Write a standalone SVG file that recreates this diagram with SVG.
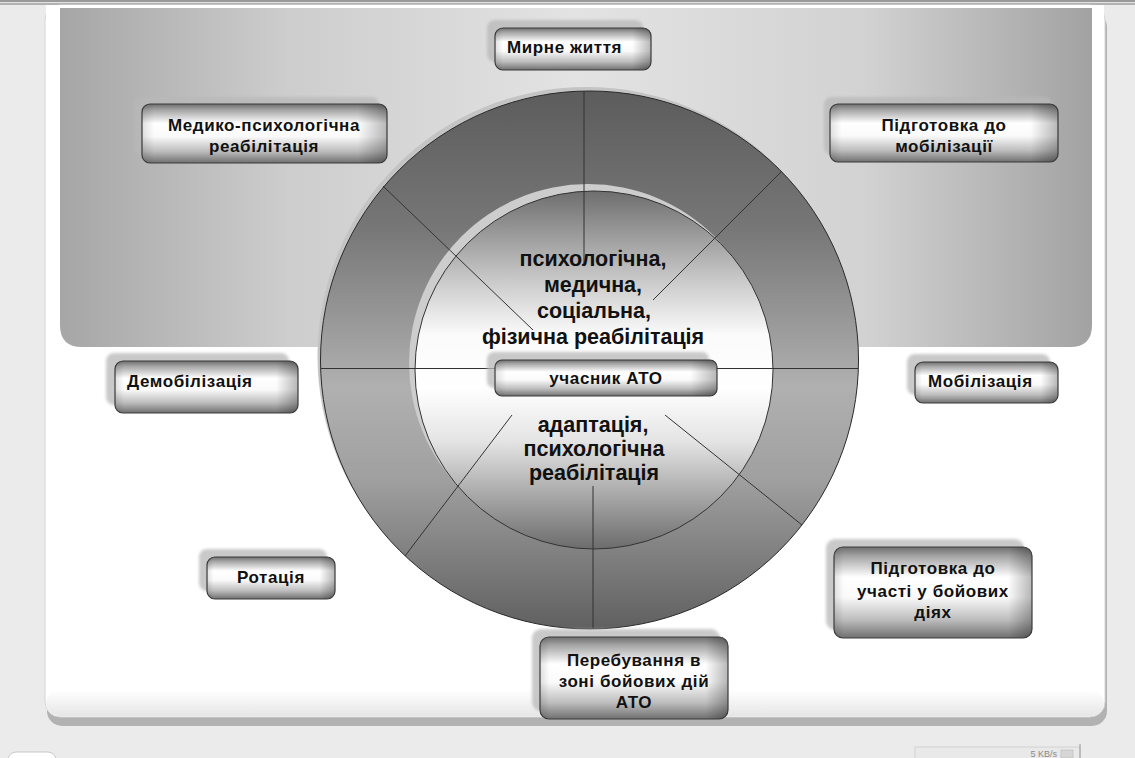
<svg xmlns="http://www.w3.org/2000/svg" width="1135" height="758" viewBox="0 0 1135 758">
<defs>
  <linearGradient id="panel" x1="0" y1="0" x2="1" y2="0">
    <stop offset="0" stop-color="#a6a6a6"/>
    <stop offset="0.22" stop-color="#cdcdcd"/>
    <stop offset="0.5" stop-color="#e3e3e3"/>
    <stop offset="0.78" stop-color="#d2d2d2"/>
    <stop offset="1" stop-color="#a2a2a2"/>
  </linearGradient>
  <linearGradient id="ring" x1="0" y1="0" x2="0" y2="1">
    <stop offset="0" stop-color="#5c5c5c"/>
    <stop offset="0.25" stop-color="#767676"/>
    <stop offset="0.55" stop-color="#b0b0b0"/>
    <stop offset="0.72" stop-color="#a0a0a0"/>
    <stop offset="1" stop-color="#606060"/>
  </linearGradient>
  <linearGradient id="core" x1="0" y1="0" x2="0" y2="1">
    <stop offset="0" stop-color="#6e6e6e"/>
    <stop offset="0.24" stop-color="#c6c6c6"/>
    <stop offset="0.4" stop-color="#fafafa"/>
    <stop offset="0.55" stop-color="#ffffff"/>
    <stop offset="0.7" stop-color="#e4e4e4"/>
    <stop offset="1" stop-color="#6c6c6c"/>
  </linearGradient>
  <linearGradient id="boxv" x1="0" y1="0" x2="0" y2="1">
    <stop offset="0" stop-color="#6e6e6e"/>
    <stop offset="0.1" stop-color="#a4a4a4"/>
    <stop offset="0.33" stop-color="#ffffff"/>
    <stop offset="0.55" stop-color="#fafafa"/>
    <stop offset="0.8" stop-color="#bdbdbd"/>
    <stop offset="1" stop-color="#707070"/>
  </linearGradient>
  <linearGradient id="boxh" x1="0" y1="0" x2="1" y2="0">
    <stop offset="0" stop-color="#000" stop-opacity="0.12"/>
    <stop offset="0.05" stop-color="#000" stop-opacity="0"/>
    <stop offset="0.88" stop-color="#000" stop-opacity="0"/>
    <stop offset="1" stop-color="#000" stop-opacity="0.28"/>
  </linearGradient>
  <linearGradient id="cbottom" x1="0" y1="0" x2="0" y2="1">
    <stop offset="0" stop-color="#ffffff"/>
    <stop offset="1" stop-color="#e6e6e6"/>
  </linearGradient>
  <filter id="soft" x="-10%" y="-30%" width="120%" height="160%">
    <feGaussianBlur stdDeviation="1.8"/>
  </filter>
</defs>
<style>
  .lbl{font-family:"Liberation Sans",Arial,sans-serif;font-size:17px;font-weight:bold;letter-spacing:0.6px;fill:#111}
  .mid{text-anchor:middle}
  .ctr{font-family:"Liberation Sans",Arial,sans-serif;font-size:21.5px;font-weight:bold;fill:#111;text-anchor:middle}
  .sh{fill:#b8b8b8;opacity:0.75;filter:url(#soft)}
  .bx{fill:url(#boxv)}
  .bo{fill:url(#boxh);stroke:#3a3a3a;stroke-width:1.2}
  .div{stroke:#333;stroke-width:1;fill:none}
</style>

<!-- page background -->
<rect x="0" y="0" width="1135" height="758" fill="#ebebeb"/>
<rect x="0" y="0" width="1135" height="2" fill="#9a9a9a"/>
<rect x="0" y="2" width="1135" height="1" fill="#e2e2e2"/>
<rect x="0" y="3" width="1135" height="2" fill="#b2b2b2"/>

<!-- container -->
<rect x="47" y="12" width="1060" height="714" rx="15" fill="#b2b2b2"/>
<rect x="45" y="5" width="1060" height="712" rx="15" fill="#ffffff" stroke="#d4d4d4" stroke-width="1"/>
<rect x="46" y="690" width="1058" height="26" rx="14" fill="url(#cbottom)"/>
<rect x="46" y="5" width="1058" height="20" fill="#ffffff"/>

<!-- grey panel -->
<path d="M60 8 H1092 V325 Q1092 347 1070 347 H82 Q60 347 60 325 Z" fill="url(#panel)"/>

<!-- wheel -->
<g id="wheel">
  <circle cx="586.5" cy="356" r="269" fill="#c4c4c4"/>
  <circle cx="589.5" cy="360" r="269" fill="url(#ring)" stroke="#2a2a2a" stroke-width="1"/>
  <circle cx="588" cy="363" r="179" fill="#cdcdcd"/>
  <circle cx="594" cy="370" r="179" fill="url(#core)" stroke="#333" stroke-width="1"/>
</g>

<g id="dividers">
  <line class="div" x1="584" y1="91" x2="584" y2="265" stroke="#111" stroke-width="1.3"/>
  <line class="div" x1="782" y1="171" x2="653" y2="300"/>
  <line class="div" x1="383" y1="186" x2="533" y2="330"/>
  <line class="div" x1="321" y1="368.5" x2="858" y2="368.5" stroke="#222"/>
  <line class="div" x1="512" y1="415" x2="405" y2="556"/>
  <line class="div" x1="593" y1="486" x2="593" y2="629" stroke="#111" stroke-width="1.3"/>
  <line class="div" x1="665" y1="415" x2="802" y2="525"/>
</g>

<g id="center-text">
  <text class="ctr" x="593" y="266">психологічна,</text>
  <text class="ctr" x="593" y="292">медична,</text>
  <text class="ctr" x="594" y="318">соціальна,</text>
  <text class="ctr" x="593" y="344">фізична реабілітація</text>
  <text class="ctr" x="593" y="432">адаптація,</text>
  <text class="ctr" x="594" y="456">психологічна</text>
  <text class="ctr" x="594" y="480">реабілітація</text>
</g>

<g id="n-center">
  <rect class="sh" x="487" y="352" width="222" height="36" rx="7"/>
  <rect class="bx" x="495" y="360" width="222" height="36" rx="7"/>
  <rect class="bo" x="495" y="360" width="222" height="36" rx="7"/>
  <text class="lbl mid" x="606" y="384">учасник АТО</text>
</g>

<g id="n-myrne">
  <rect class="sh" x="487" y="20" width="156" height="42" rx="8"/>
  <rect class="bx" x="495" y="28" width="156" height="42" rx="8"/>
  <rect class="bo" x="495" y="28" width="156" height="42" rx="8"/>
  <text class="lbl" x="507" y="53">Мирне життя</text>
</g>

<g id="n-medyko">
  <rect class="sh" x="134" y="97" width="245" height="59" rx="8"/>
  <rect class="bx" x="142" y="104" width="245" height="59" rx="8"/>
  <rect class="bo" x="142" y="104" width="245" height="59" rx="8"/>
  <text class="lbl mid" x="264" y="131">Медико-психологічна</text>
  <text class="lbl mid" x="264" y="152">реабілітація</text>
</g>

<g id="n-pidgotovka-mob">
  <rect class="sh" x="824" y="97" width="228" height="58" rx="8"/>
  <rect class="bx" x="830" y="104" width="228" height="58" rx="8"/>
  <rect class="bo" x="830" y="104" width="228" height="58" rx="8"/>
  <text class="lbl mid" x="944" y="131">Підготовка до</text>
  <text class="lbl mid" x="944" y="152">мобілізації</text>
</g>

<g id="n-demob">
  <rect class="sh" x="106" y="353" width="183" height="52" rx="8"/>
  <rect class="bx" x="115" y="361" width="183" height="52" rx="8"/>
  <rect class="bo" x="115" y="361" width="183" height="52" rx="8"/>
  <text class="lbl" x="127" y="387">Демобілізація</text>
</g>

<g id="n-mob">
  <rect class="sh" x="907" y="354" width="143" height="41" rx="8"/>
  <rect class="bx" x="915" y="362" width="143" height="41" rx="8"/>
  <rect class="bo" x="915" y="362" width="143" height="41" rx="8"/>
  <text class="lbl" x="928" y="387">Мобілізація</text>
</g>

<g id="n-rotacia">
  <rect class="sh" x="199" y="549" width="128" height="42" rx="8"/>
  <rect class="bx" x="207" y="557" width="128" height="42" rx="8"/>
  <rect class="bo" x="207" y="557" width="128" height="42" rx="8"/>
  <text class="lbl mid" x="271" y="583">Ротація</text>
</g>

<g id="n-pidgotovka-boi">
  <rect class="sh" x="826" y="539" width="198" height="91" rx="9"/>
  <rect class="bx" x="834" y="547" width="198" height="91" rx="9"/>
  <rect class="bo" x="834" y="547" width="198" height="91" rx="9"/>
  <text class="lbl mid" x="933" y="574">Підготовка до</text>
  <text class="lbl mid" x="933" y="597">участі у бойових</text>
  <text class="lbl mid" x="933" y="618">діях</text>
</g>

<g id="n-perebuvannia">
  <rect class="sh" x="532" y="629" width="188" height="82" rx="9"/>
  <rect class="bx" x="540" y="637" width="188" height="82" rx="9"/>
  <rect class="bo" x="540" y="637" width="188" height="82" rx="9"/>
  <text class="lbl mid" x="634" y="666">Перебування в</text>
  <text class="lbl mid" x="634" y="687">зоні бойових дій</text>
  <text class="lbl mid" x="634" y="708">АТО</text>
</g>

<!-- status bar bits -->
<rect x="8" y="752" width="48" height="20" rx="8" fill="#ffffff" stroke="#c8c8c8" stroke-width="1"/>
<rect x="915" y="747" width="165" height="16" fill="#e9e9e9" stroke="#d2d2d2" stroke-width="1"/>
<line x1="1080" y1="744" x2="1080" y2="758" stroke="#9a9a9a" stroke-width="1"/>
<rect x="1061" y="750" width="12" height="8" fill="#d6d6d6" stroke="#c0c0c0" stroke-width="0.8"/>
<text x="1057" y="757" text-anchor="end" font-family="'Liberation Sans',Arial,sans-serif" font-size="9" fill="#8a8a8a">5 KB/s</text>
</svg>
